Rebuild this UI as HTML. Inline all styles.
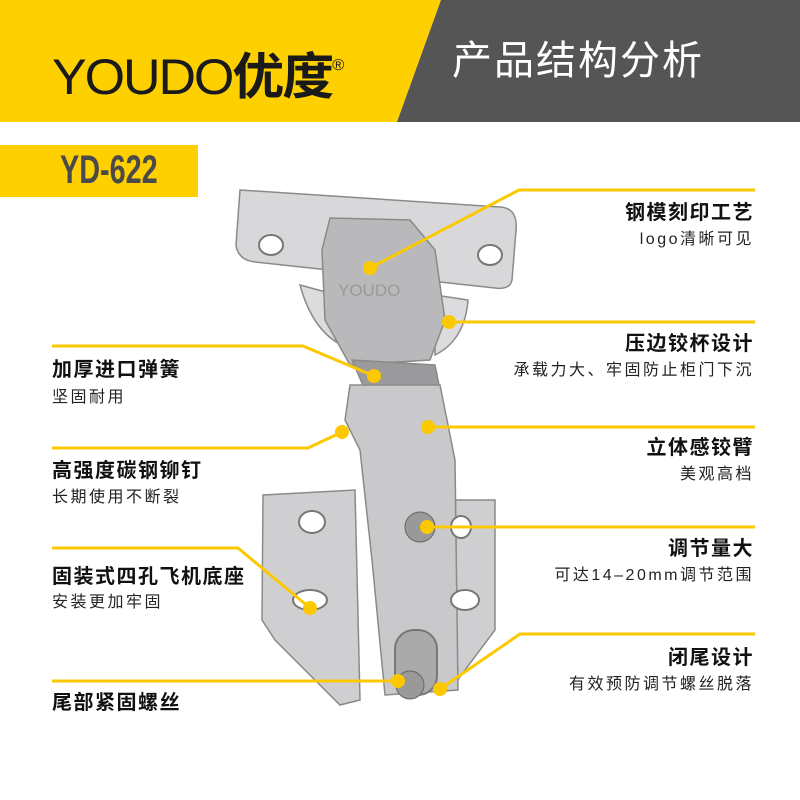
<!DOCTYPE html>
<html><head><meta charset="utf-8"><style>
body{margin:0;width:800px;height:800px;overflow:hidden;background:#fff;font-family:"Liberation Sans","Noto Sans CJK SC",sans-serif;position:relative}
.t{position:absolute;font-size:20px;font-weight:bold;color:#111;white-space:nowrap;line-height:22px;letter-spacing:1.5px}
.s{position:absolute;font-size:16px;color:#222;white-space:nowrap;line-height:18px;letter-spacing:2.5px}
.r{text-align:right;right:46px}
.l{left:52px}
</style></head><body>
<svg width="800" height="800" style="position:absolute;left:0;top:0">
<polygon points="0,0 441,0 397,122 0,122" fill="#fed000"/>
<polygon points="441,0 800,0 800,122 397,122" fill="#555"/>
<rect x="0" y="145" width="198" height="52" fill="#fed000"/>
<g stroke="#8a8a8a" stroke-width="1.5">
<path d="M240,190 L500,207 Q518,208 516,230 L512,280 Q510,290 495,288 L255,262 Q238,260 236,245 Z" fill="#d8d8da"/>
<path d="M300,285 Q315,340 355,350 L355,300 Z" fill="#dcdcde"/>
<path d="M435,295 L468,300 Q465,340 435,355 Z" fill="#dcdcde"/>
<path d="M330,218 L410,220 L435,250 L445,320 L430,360 L350,365 L325,320 L322,250 Z" fill="#b9b9bc"/>
<path d="M263,495 L355,490 L360,700 L340,705 L275,640 L262,620 Z" fill="#cfcfd2"/>
<path d="M430,500 L495,500 L495,630 L450,690 L430,690 Z" fill="#cfcfd2"/>
<path d="M352,360 L435,365 L440,390 L365,390 Z" fill="#9a9a9d"/>
<path d="M350,385 L440,385 L455,460 L458,690 L385,695 L372,560 L360,450 L345,420 Z" fill="#c9c9cc"/>
</g>
<g fill="#fff" stroke="#777" stroke-width="2">
<ellipse cx="271" cy="245" rx="12" ry="10"/>
<ellipse cx="490" cy="255" rx="12" ry="10"/>
<ellipse cx="312" cy="522" rx="13" ry="11"/>
<ellipse cx="310" cy="600" rx="17" ry="10"/>
<ellipse cx="461" cy="527" rx="10" ry="11"/>
<ellipse cx="465" cy="600" rx="14" ry="10"/>
<rect x="395" y="630" width="42" height="65" rx="19" fill="#aaa"/>
</g>
<circle cx="420" cy="527" r="15" fill="#999" stroke="#666"/>
<circle cx="410" cy="685" r="14" fill="#999" stroke="#666"/>
<text x="338" y="296" font-size="17" fill="#999" font-family="Liberation Sans">YOUDO</text>
<g stroke="#fcc800" stroke-width="3" fill="none">
<polyline points="755,190 519,190 370,268"/>
<polyline points="449,322 755,322"/>
<polyline points="52,346 303,346 374,376"/>
<polyline points="428,427 755,427"/>
<polyline points="52,448 308,448 342,432"/>
<polyline points="427,527 755,527"/>
<polyline points="52,548 238,548 310,608"/>
<polyline points="755,634 520,634 440,689"/>
<polyline points="52,681 398,681"/>
</g>
<g fill="#fcc800">
<circle cx="370" cy="268" r="7"/><circle cx="449" cy="322" r="7"/><circle cx="374" cy="376" r="7"/>
<circle cx="428" cy="427" r="7"/><circle cx="342" cy="432" r="7"/><circle cx="427" cy="527" r="7"/>
<circle cx="310" cy="608" r="7"/><circle cx="440" cy="689" r="7"/><circle cx="398" cy="681" r="7"/>
</g>
</svg>
<div style="position:absolute;left:52px;top:38px;font-size:50px;color:#1a1a1a;letter-spacing:-2px;line-height:56px;transform:scaleX(1.04);transform-origin:left">YOUDO<span style="font-weight:bold">优度</span><sup style="font-size:16px;vertical-align:24px">®</sup></div>
<div style="position:absolute;left:452px;top:36px;font-size:40px;color:#fff;line-height:50px;letter-spacing:2px">产品结构分析</div>
<div style="position:absolute;left:60px;top:146px;font-size:40px;font-weight:bold;color:#4a4a4a;line-height:48px;transform:scaleX(0.72);transform-origin:left">YD-622</div>
<div class="t r" style="top:202px">钢模刻印工艺</div><div class="s r" style="top:231px">logo清晰可见</div>
<div class="t r" style="top:333px">压边铰杯设计</div><div class="s r" style="top:362px">承载力大、牢固防止柜门下沉</div>
<div class="t r" style="top:437px">立体感铰臂</div><div class="s r" style="top:466px">美观高档</div>
<div class="t r" style="top:538px">调节量大</div><div class="s r" style="top:567px">可达14–20mm调节范围</div>
<div class="t r" style="top:647px">闭尾设计</div><div class="s r" style="top:676px">有效预防调节螺丝脱落</div>
<div class="t l" style="top:359px">加厚进口弹簧</div><div class="s l" style="top:389px">坚固耐用</div>
<div class="t l" style="top:460px">高强度碳钢铆钉</div><div class="s l" style="top:489px">长期使用不断裂</div>
<div class="t l" style="top:566px">固装式四孔飞机底座</div><div class="s l" style="top:594px">安装更加牢固</div>
<div class="t l" style="top:692px">尾部紧固螺丝</div>
</body></html>
